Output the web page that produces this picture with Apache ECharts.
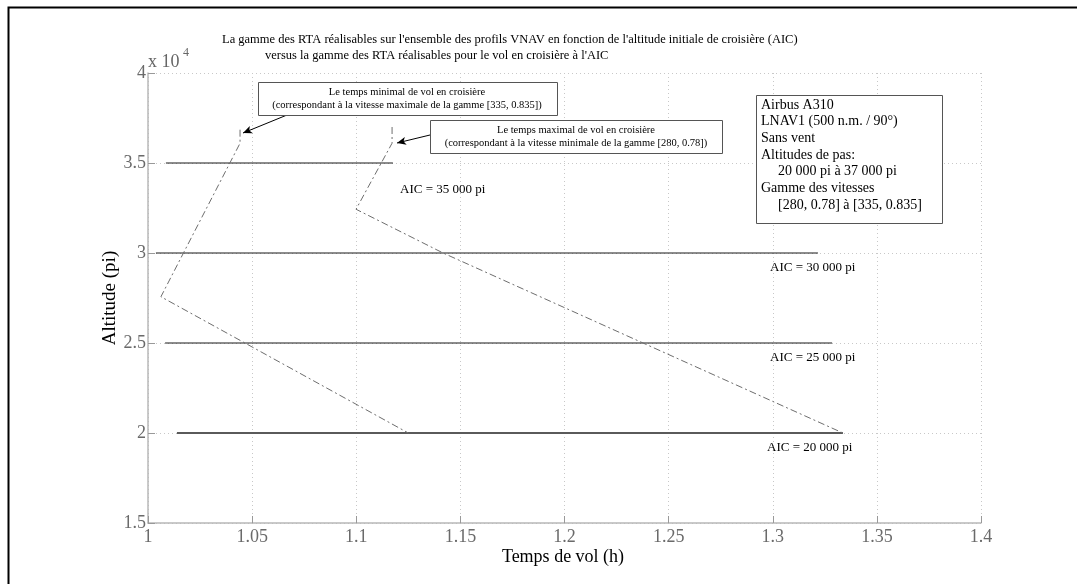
<!DOCTYPE html>
<html>
<head>
<meta charset="utf-8">
<script src="https://cdn.jsdelivr.net/npm/echarts@6/dist/echarts.min.js"></script>
<style>
  html, body { margin: 0; padding: 0; background: #fff; }
  #main { width: 1077px; height: 584px; }
</style>
</head>
<body>
<div id="main"></div>
<script>
// --- données ---
const aicAltitudes = [35000, 30000, 25000, 20000]
const aicTimeStart = [1.0086, 1.0038, 1.0082, 1.0139]
const aicTimeEnd = [1.1176, 1.3217, 1.3285, 1.3337]
const aicLabels = ['AIC = 35 000 pi', 'AIC = 30 000 pi', 'AIC = 25 000 pi', 'AIC = 20 000 pi']

// temps minimal (vitesse max) et maximal (vitesse min) en croisière
const minTime = [1.0442, 1.0442, 1.0062, 1.125]
const minAlt = [36850, 36100, 27570, 20000]
const maxTime = [1.1172, 1.1172, 1.0999, 1.1417, 1.3337]
const maxAlt = [37000, 36100, 32430, 30000, 20000]

const infoLines = [
  ['Airbus A310', 0],
  ['LNAV1 (500 n.m. / 90°)', 0],
  ['Sans vent', 0],
  ['Altitudes de pas:', 0],
  ['20 000 pi à 37 000 pi', 1],
  ['Gamme des vitesses', 0],
  ['[280, 0.78] à [335, 0.835]', 1]
]

const FONT = '"Liberation Serif", "Times New Roman", serif'
const chart = echarts.init(document.getElementById('main'))

const zip = (xs, ys) => xs.map((x, i) => [x, ys[i]])

const aicSeries = aicAltitudes.map((alt, i) => ({
  type: 'line',
  data: [[aicTimeStart[i], alt], [aicTimeEnd[i], alt]],
  symbol: 'none',
  silent: true,
  lineStyle: alt === 20000 ? { color: '#5a5a5a', width: 2 } : { color: '#1a1a1a', width: 1.2 },
  z: 3
}))

const dashDot = { color: '#6e6e6e', width: 1, type: [7, 3, 2, 3] }

const txt = (text, x, y, size, extra) => ({
  type: 'text',
  x, y,
  silent: true,
  style: Object.assign({
    text,
    font: size + 'px ' + FONT,
    fill: '#000',
    textAlign: 'left',
    textVerticalAlign: 'middle',
    align: 'left',
    verticalAlign: 'middle'
  }, extra || {}),
  z: 20
})

const boxes = [
  { type: 'rect', shape: { x: 258.5, y: 82.5, width: 299, height: 33 }, style: { fill: '#fff', stroke: '#555', lineWidth: 1 }, z: 15, silent: true },
  { type: 'rect', shape: { x: 430.5, y: 120.5, width: 292, height: 33 }, style: { fill: '#fff', stroke: '#555', lineWidth: 1 }, z: 15, silent: true },
  { type: 'rect', shape: { x: 756.5, y: 95.5, width: 186, height: 128 }, style: { fill: '#fff', stroke: '#555', lineWidth: 1 }, z: 15, silent: true },
  // cadre noir de la figure
  { type: 'rect', shape: { x: 8.5, y: 7.5, width: 2000, height: 2000 }, style: { fill: 'none', stroke: '#000', lineWidth: 2 }, z: 30, silent: true }
]

const texts = [
  txt("La gamme des RTA réalisables sur l'ensemble des profils VNAV en fonction de l'altitude initiale de croisière (AIC)", 222, 40, 12.5),
  txt("versus la gamme des RTA réalisables pour le vol en croisière à l'AIC", 265, 56, 12.5),
  txt('x 10', 148, 62, 18, { fill: '#666' }),
  txt('4', 183, 53, 12, { fill: '#666' }),
  txt('Temps de vol (h)', 563, 557, 18, { textAlign: 'center', align: 'center' }),
  {
    type: 'text', x: 110, y: 298, rotation: Math.PI / 2, silent: true, z: 20,
    style: { text: 'Altitude (pi)', font: '19px ' + FONT, fill: '#000', textAlign: 'center', align: 'center', textVerticalAlign: 'middle', verticalAlign: 'middle' }
  },
  txt('Le temps minimal de vol en croisière', 407, 92, 10.5, { textAlign: 'center', align: 'center' }),
  txt('(correspondant à la vitesse maximale de la gamme [335, 0.835])', 407, 105, 10.5, { textAlign: 'center', align: 'center' }),
  txt('Le temps maximal de vol en croisière', 576, 130, 10.5, { textAlign: 'center', align: 'center' }),
  txt('(correspondant à la vitesse minimale de la gamme [280, 0.78])', 576, 143, 10.5, { textAlign: 'center', align: 'center' })
]

infoLines.forEach((l, i) => {
  texts.push(txt(l[0], l[1] ? 778 : 761, 105 + i * 16.7, 14))
})

const aicLabelPos = [[400, 190], [770, 268], [770, 358], [767, 448]]
aicLabels.forEach((s, i) => {
  texts.push(txt(s, aicLabelPos[i][0], aicLabelPos[i][1], 13))
})

const option = {
  animation: false,
  backgroundColor: '#fff',
  grid: { left: 148, right: 96, top: 73, bottom: 61, outerBoundsMode: 'none', containLabel: false },
  xAxis: {
    type: 'value',
    min: 1, max: 1.4, interval: 0.05,
    axisLine: { lineStyle: { color: '#b8b8b8', width: 1.5 } },
    axisTick: { inside: true, length: 7, lineStyle: { color: '#999' } },
    axisLabel: { color: '#6a6a6a', fontFamily: FONT, fontSize: 18, margin: 5, formatter: v => String(+v.toFixed(2)) },
    splitLine: { show: true, lineStyle: { color: '#c8c8c8', type: [1, 3] } }
  },
  yAxis: {
    type: 'value',
    min: 15000, max: 40000, interval: 5000,
    axisLine: { show: true, lineStyle: { color: '#b8b8b8', width: 1.5 } },
    axisTick: { show: true, inside: true, length: 7, lineStyle: { color: '#999' } },
    axisLabel: { color: '#6a6a6a', fontFamily: FONT, fontSize: 18, margin: 2, formatter: v => String(v / 10000) },
    splitLine: { show: true, lineStyle: { color: '#c8c8c8', type: [1, 3] } }
  },
  series: [
    ...aicSeries,
    {
      type: 'line', data: zip(minTime, minAlt), symbol: 'none', silent: true,
      lineStyle: dashDot, z: 4,
      markLine: {
        silent: true,
        symbol: ['none', 'arrow'],
        symbolSize: [6, 9],
        label: { show: false },
        lineStyle: { color: '#000', width: 1, type: 'solid' },
        data: [
          [{ x: 287, y: 115 }, { x: 243, y: 133 }],
          [{ x: 430, y: 135 }, { x: 397, y: 143 }]
        ]
      }
    },
    { type: 'line', data: zip(maxTime, maxAlt), symbol: 'none', silent: true, lineStyle: dashDot, z: 4 }
  ],
  graphic: [...boxes, ...texts]
}

chart.setOption(option)
</script>
</body>
</html>
